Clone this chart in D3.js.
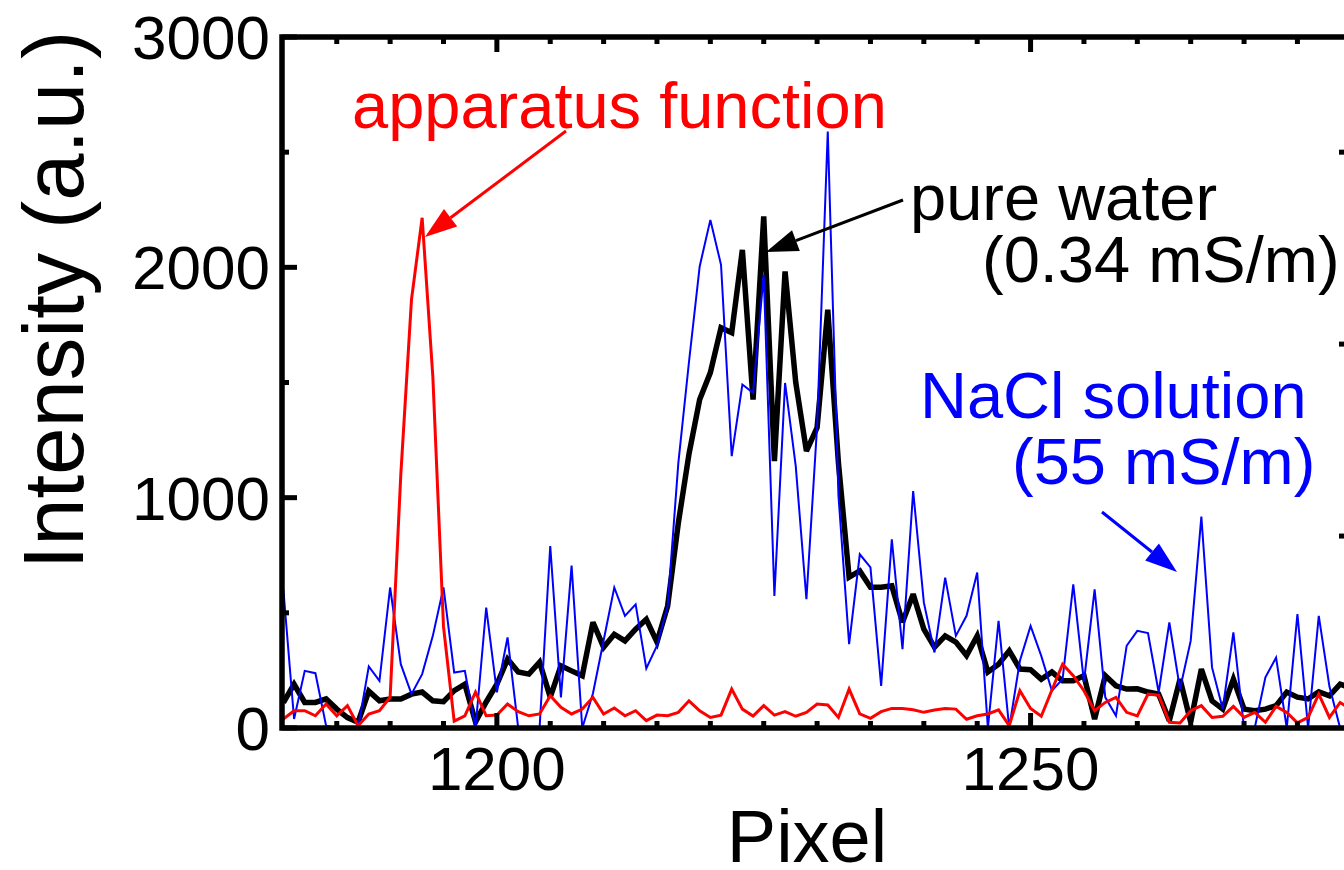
<!DOCTYPE html>
<html><head><meta charset="utf-8">
<script src="https://cdn.jsdelivr.net/npm/d3@7"></script>
<style>
html,body{margin:0;padding:0;background:#fff;}
svg{display:block;font-family:"Liberation Sans",Arial,sans-serif;}
</style></head>
<body>
<svg id="chart" width="1344" height="870"></svg>
<script>
// ---- data ----
const pixels = [1180,1181,1182,1183,1184,1185,1186,1187,1188,1189,1190,1191,1192,1193,1194,1195,1196,1197,1198,1199,
1200,1201,1202,1203,1204,1205,1206,1207,1208,1209,1210,1211,1212,1213,1214,1215,1216,1217,1218,1219,
1220,1221,1222,1223,1224,1225,1226,1227,1228,1229,1230,1231,1232,1233,1234,1235,1236,1237,1238,1239,
1240,1241,1242,1243,1244,1245,1246,1247,1248,1249,1250,1251,1252,1253,1254,1255,1256,1257,1258,1259,
1260,1261,1262,1263,1264,1265,1266,1267,1268,1269,1270,1271,1272,1273,1274,1275,1276,1277,1278,1279,1280];

const pureWater = [110,190,111,111,126,82,45,25,160,118,126,126,147,156,118,114,162,190,26,113,
190,299,243,234,286,134,270,248,227,459,351,407,378,429,472,373,530,890,1190,1426,
1543,1738,1716,2076,1426,2221,1159,1982,1500,1202,1304,1816,1150,655,682,611,611,617,459,581,
429,351,400,373,315,400,243,277,335,256,253,212,243,205,205,227,39,227,183,169,
170,156,147,32,212,26,256,118,82,212,82,75,82,97,156,134,126,157,140,190,175];

const apparatus = [39,75,75,53,104,53,97,10,61,75,134,1100,1860,2215,1527,440,30,53,156,53,
56,104,71,53,61,140,90,61,82,133,61,87,53,75,32,56,53,68,118,75,
46,56,169,82,52,97,56,71,51,68,104,100,46,169,61,42,71,85,85,79,
68,78,85,82,38,53,61,79,10,162,85,51,165,277,227,162,75,111,133,68,
52,147,143,25,22,75,97,46,51,94,46,68,25,94,68,22,46,147,46,111,80];

const nacl = [600,39,248,238,10,0,0,0,267,205,610,277,147,234,400,610,241,248,0,523,
155,393,0,0,0,790,133,705,0,150,380,610,487,537,259,357,530,1150,1590,2004,
2206,2011,1180,1491,1455,1968,573,1498,1137,559,1310,2590,1010,364,754,697,183,819,342,1029,
545,328,653,400,487,675,0,465,0,292,443,313,162,212,624,200,602,133,53,357,
422,412,155,458,169,378,918,263,82,415,0,0,220,306,0,494,0,487,180,0,0];

const xMajorTicks = [1200, 1250];
const xMinorTicks = [1185,1190,1195,1205,1210,1215,1220,1225,1230,1235,1240,1245,1255,1260,1265,1270,1275];
const yMajorTicks = [0, 1000, 2000, 3000];
const yMinorTicks = [500, 1500, 2500];
const yRightMajorTicks = [1000, 2000, 3000];
const yRightMinorTicks = [500, 1500, 2500, 3500];
const xDomain = [1179.87, 1280.3];
const yDomain = [0, 3000];
const yRightDomain = [0, 3600];

const labels = {
  x: "Pixel",
  y: "Intensity (a.u.)",
  apparatus: "apparatus function",
  water1: "pure water",
  water2: "(0.34 mS/m)",
  nacl1: "NaCl solution",
  nacl2: "(55 mS/m)"
};

// ---- layout ----
const L = 282, R = 1354, T = 37, B = 728;
const svg = d3.select("#chart");
const x = d3.scaleLinear().domain(xDomain).range([L, R]);
const y = d3.scaleLinear().domain(yDomain).range([B, T]);
const yR = d3.scaleLinear().domain(yRightDomain).range([B, T]);

svg.append("defs").append("clipPath").attr("id","plotclip")
  .append("rect").attr("x",L).attr("y",T).attr("width",R-L).attr("height",B-T);

const line = d3.line().x((d,i)=>x(pixels[i])).y(d=>y(d));
const g = svg.append("g").attr("clip-path","url(#plotclip)");

g.append("path").datum(pureWater).attr("d",line)
  .attr("fill","none").attr("stroke","#000").attr("stroke-width",5.5).attr("stroke-linejoin","miter").attr("stroke-miterlimit",3);
g.append("path").datum(nacl).attr("d",line)
  .attr("fill","none").attr("stroke","#0000ff").attr("stroke-width",2).attr("stroke-linejoin","miter");
g.append("path").datum(apparatus).attr("d",line)
  .attr("fill","none").attr("stroke","#ff0000").attr("stroke-width",3).attr("stroke-linejoin","miter");

// ---- frame ----
svg.append("rect").attr("x",L).attr("y",T).attr("width",R-L).attr("height",B-T)
  .attr("fill","none").attr("stroke","#000").attr("stroke-width",5.5);

const major = 15, minor = 7;
[[xMajorTicks,major],[xMinorTicks,minor]].forEach(([ticks,len])=>{
  svg.selectAll(null).data(ticks).enter().append("line")
    .attr("x1",d=>x(d)).attr("x2",d=>x(d)).attr("y1",B).attr("y2",B-len)
    .attr("stroke","#000").attr("stroke-width",5);
  svg.selectAll(null).data(ticks).enter().append("line")
    .attr("x1",d=>x(d)).attr("x2",d=>x(d)).attr("y1",T).attr("y2",T+len)
    .attr("stroke","#000").attr("stroke-width",5);
});
[[yMajorTicks,major],[yMinorTicks,minor]].forEach(([ticks,len])=>{
  svg.selectAll(null).data(ticks).enter().append("line")
    .attr("x1",L).attr("x2",L+len).attr("y1",d=>y(d)).attr("y2",d=>y(d))
    .attr("stroke","#000").attr("stroke-width",5);
});
[[yRightMajorTicks,major],[yRightMinorTicks,minor]].forEach(([ticks,len])=>{
  svg.selectAll(null).data(ticks).enter().append("line")
    .attr("x1",R).attr("x2",R-len).attr("y1",d=>yR(d)).attr("y2",d=>yR(d))
    .attr("stroke","#000").attr("stroke-width",5);
});

// tick labels
svg.selectAll(null).data(xMajorTicks).enter().append("text")
  .attr("x",d=>x(d)).attr("y",790).attr("text-anchor","middle")
  .attr("font-size",62).attr("fill","#000").text(d=>d);
svg.selectAll(null).data(yMajorTicks).enter().append("text")
  .attr("x",270).attr("y",d=>y(d)+22).attr("text-anchor","end")
  .attr("font-size",62).attr("fill","#000").text(d=>d);

// axis titles
svg.append("text").attr("x",807).attr("y",862).attr("text-anchor","middle")
  .attr("font-size",74).attr("fill","#000").text(labels.x);
svg.append("text").attr("transform","translate(83,300) rotate(-90)").attr("text-anchor","middle")
  .attr("font-size",85).attr("fill","#000").text(labels.y);

// annotations
function ann(txt,xx,yy,col){
  svg.append("text").attr("x",xx).attr("y",yy).attr("font-size",65).attr("fill",col).text(txt);
}
ann(labels.apparatus,352,128,"#ff0000");
ann(labels.water1,910,220,"#000");
ann(labels.water2,982,282,"#000");
ann(labels.nacl1,920,418,"#0000ff");
ann(labels.nacl2,1012,484,"#0000ff");

function arrow(x1,y1,x2,y2,col){
  const ang = Math.atan2(y2-y1,x2-x1), len=32, w=11;
  const bx = x2-len*Math.cos(ang), by = y2-len*Math.sin(ang);
  svg.append("line").attr("x1",x1).attr("y1",y1).attr("x2",bx).attr("y2",by)
    .attr("stroke",col).attr("stroke-width",3);
  const px = -Math.sin(ang), py = Math.cos(ang);
  svg.append("path").attr("d",`M${x2},${y2}L${bx+px*w},${by+py*w}L${bx-px*w},${by-py*w}Z`).attr("fill",col);
}
arrow(566,131,425,237,"#ff0000");
arrow(903,200,766,252,"#000");
arrow(1102,512,1177,572,"#0000ff");
</script>
</body></html>
